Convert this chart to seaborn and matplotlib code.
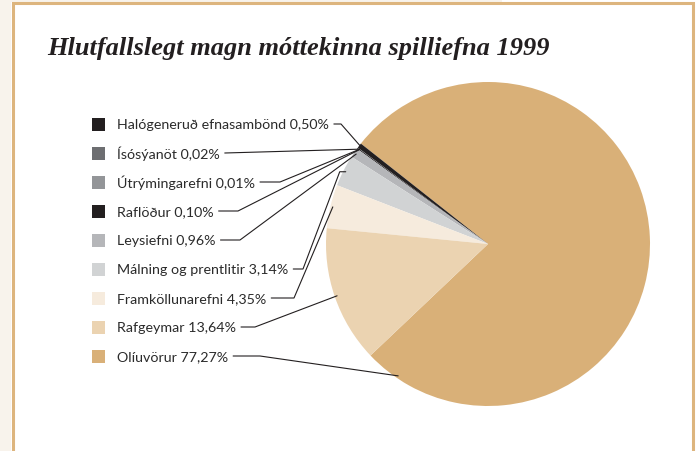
import matplotlib

matplotlib.use("Agg")
import matplotlib.pyplot as plt
import numpy as np
import seaborn as sns
from matplotlib.patches import Rectangle

# Hlutfall móttekinna spilliefna 1999, in legend order (top to bottom)
categories = [
    "Halógeneruð efnasambönd",
    "Ísósýanöt",
    "Útrýmingarefni",
    "Raflöður",
    "Leysiefni",
    "Málning og prentlitir",
    "Framköllunarefni",
    "Rafgeymar",
    "Olíuvörur",
]
shares = [0.50, 0.02, 0.01, 0.10, 0.96, 3.14, 4.35, 13.64, 77.27]
colors = [
    "#231f20", "#6d6e71", "#939598", "#231f20", "#b5b6b9",
    "#d1d3d4", "#f6ebdd", "#ebd3b1", "#d9b078",
]
title = "Hlutfallslegt magn móttekinna spilliefna 1999"

W, H = 699, 452
INK = "#231f20"
FRAME = "#ddb57e"

sns.set_theme(style="white")
plt.rcParams["font.family"] = ["Lato", "DejaVu Sans"]


def py(y):
    """pixel row (from top) -> data y (from bottom)"""
    return H - y


fig = plt.figure(figsize=(W / 100, H / 100), dpi=100, facecolor="white")
ax = fig.add_axes([0, 0, 1, 1])

# pie: biggest slice first, the rest follow counterclockwise in legend order
cx, cy, radius = 488, 245, 162
order = [len(shares) - 1] + list(range(len(shares) - 1))
wedges, _ = ax.pie(
    [shares[i] for i in order],
    colors=[colors[i] for i in order],
    startangle=-136.5,
    counterclock=True,
    center=(cx, py(cy)),
    radius=radius,
    wedgeprops=dict(linewidth=0),
)
wedge_of = {idx: w for idx, w in zip(order, wedges)}

ax.set_xlim(0, W)
ax.set_ylim(0, H)
ax.set_aspect("equal")
ax.axis("off")

# page background and frame
ax.add_patch(Rectangle((0, 0), 11, H, color="#f8f3ec", lw=0, zorder=0))
ax.add_patch(Rectangle((0, py(3)), 502, 3, color="#f8f3ec", lw=0, zorder=0))
ax.plot([12.5, 12.5, 693, 693], [0, py(4.3), py(4.3), 0], color=FRAME,
        lw=2.2, solid_joinstyle="miter", zorder=1)

ax.text(47, py(55), title, fontsize=19, family="Liberation Serif",
        style="italic", weight="bold", color=INK, va="baseline", ha="left")

# legend rows with leader lines
row_y = [125 + 29 * i for i in range(len(categories))]
elbow_x = [341, None, 280, 238, 240, 303, 294, 255, 260]
anchor_frac = [0.5] * 8 + [0.044]

fig.canvas.draw()
renderer = fig.canvas.get_renderer()
inv = ax.transData.inverted()

for i, (name, share) in enumerate(zip(categories, shares)):
    y = row_y[i]
    ax.add_patch(Rectangle((92, py(y + 6.5)), 13, 13, color=colors[i], lw=0))
    label = f"{name} {share:.2f}%".replace(".", ",")
    t = ax.text(117, py(y), label, fontsize=10.3, color="#2b2b2b",
                va="center", ha="left")

    x_end = inv.transform(t.get_window_extent(renderer).get_points())[1, 0]
    w = wedge_of[i]
    ang = np.deg2rad(w.theta1 + anchor_frac[i] * (w.theta2 - w.theta1))
    px = cx + 0.985 * radius * np.cos(ang)
    pyy = py(cy) + 0.985 * radius * np.sin(ang)

    xs, ys = [x_end + 5], [py(y)]
    if elbow_x[i] is not None:
        xs.append(max(elbow_x[i], x_end + 9))
        ys.append(py(y))
    if name.startswith("Málning"):
        xs.append(px - 6)
        ys.append(pyy)
    xs.append(px)
    ys.append(pyy)
    ax.plot(xs, ys, color=INK, lw=0.8, zorder=5)

fig.savefig("out.png", dpi=100, facecolor="white")
